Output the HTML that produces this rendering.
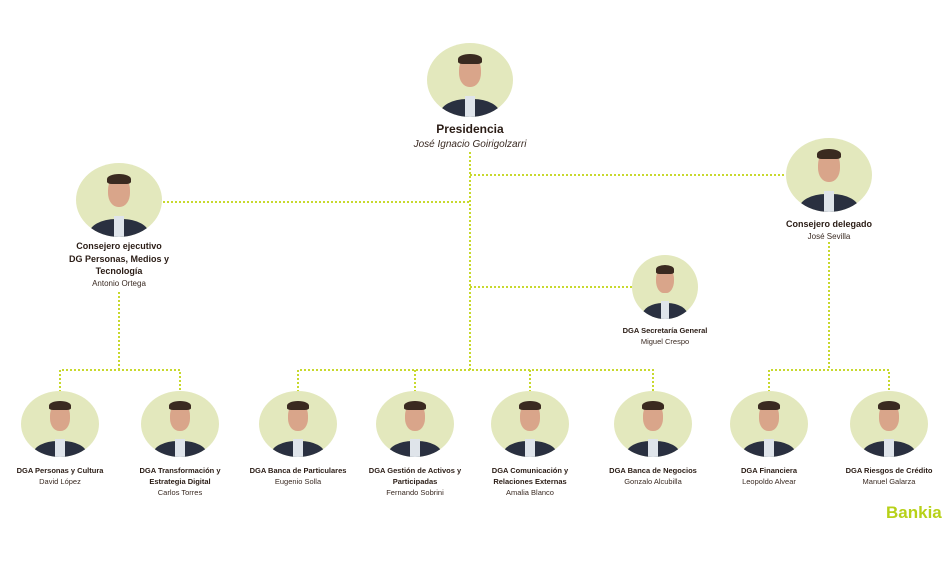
<!DOCTYPE html>
<html><head><meta charset="utf-8"><style>
body{margin:0;width:950px;height:563px;background:#fff;position:relative;overflow:hidden;font-family:"Liberation Sans",sans-serif;color:#3a2a22}
.c{position:absolute;border-radius:50%;background:#e3e8bd;overflow:hidden}
.c .b{position:absolute;left:15%;right:15%;bottom:-20%;height:45%;background:#2a3040;border-radius:45% 45% 0 0}
.c .s{position:absolute;left:44%;width:12%;bottom:0;height:28%;background:#dfe4ea}
.c .h{position:absolute;left:37%;width:26%;top:18%;height:42%;background:#d9a58a;border-radius:45%}
.c .hr{position:absolute;left:36%;width:28%;top:15%;height:14%;background:#3a2a20;border-radius:50% 50% 20% 20%}
.t{position:absolute;text-align:center;font-size:8px;line-height:11px;transform:translateX(-50%);white-space:nowrap}
.t b{font-weight:bold;color:#2a1c15}
</style></head><body>
<svg width="950" height="563" style="position:absolute;left:0;top:0">
<g stroke="#c8d92e" stroke-width="2" stroke-dasharray="2 2" fill="none">
<path d="M470 152V370M470 175H786M163 202H470M470 287H632M298 392V370H653V392M415 370V392M530 370V392"/>
<path d="M119 292V370M60 392V370H180V392"/>
<path d="M829 242V370M769 392V370H889V392"/>
</g></svg>
<div id="n"></div>
<div class="t" style="left:886px;top:503px;font-size:17px;line-height:20px;color:#b7d118;font-weight:bold;transform:none">Bankia</div>
<script>
const N=[
[470,80,43,37,[["Presidencia",1,12],["José Ignacio Goirigolzarri",2,10]],122],
[119,200,43,37,[["Consejero ejecutivo",1,9],["DG Personas, Medios y",1,9],["Tecnología",1,9],["Antonio Ortega",0,8]],240],
[829,175,43,37,[["Consejero delegado",1,9],["José Sevilla",0,8]],218],
[665,287,33,32,[["DGA Secretaría General",1,7.5],["Miguel Crespo",0,7.5]],325],
[60,424,39,33,[["DGA Personas y Cultura",1,7.5],["David López",0,7.5]],465],
[180,424,39,33,[["DGA Transformación y",1,7.5],["Estrategia Digital",1,7.5],["Carlos Torres",0,7.5]],465],
[298,424,39,33,[["DGA Banca de Particulares",1,7.5],["Eugenio Solla",0,7.5]],465],
[415,424,39,33,[["DGA Gestión de Activos y",1,7.5],["Participadas",1,7.5],["Fernando Sobrini",0,7.5]],465],
[530,424,39,33,[["DGA Comunicación y",1,7.5],["Relaciones Externas",1,7.5],["Amalia Blanco",0,7.5]],465],
[653,424,39,33,[["DGA Banca de Negocios",1,7.5],["Gonzalo Alcubilla",0,7.5]],465],
[769,424,39,33,[["DGA Financiera",1,7.5],["Leopoldo Alvear",0,7.5]],465],
[889,424,39,33,[["DGA Riesgos de Crédito",1,7.5],["Manuel Galarza",0,7.5]],465]];
let h="";
for(const [x,y,rx,ry,L,ty] of N){
h+=`<div class="c" style="left:${x-rx}px;top:${y-ry}px;width:${2*rx}px;height:${2*ry}px"><div class="b"></div><div class="s"></div><div class="h"></div><div class="hr"></div></div>`;
let s="";for(const [txt,b,f] of L){const lh=f+3.5;s+= b==1?`<div style="font-size:${f}px;line-height:${lh}px;font-weight:bold;color:#2a1c15">${txt}</div>`:b==2?`<div style="font-size:${f}px;line-height:${lh}px;font-style:italic">${txt}</div>`:`<div style="font-size:${f}px;line-height:${lh}px">${txt}</div>`;}
h+=`<div class="t" style="left:${x}px;top:${ty}px">${s}</div>`;}
document.getElementById("n").innerHTML=h;
</script>
</body></html>
